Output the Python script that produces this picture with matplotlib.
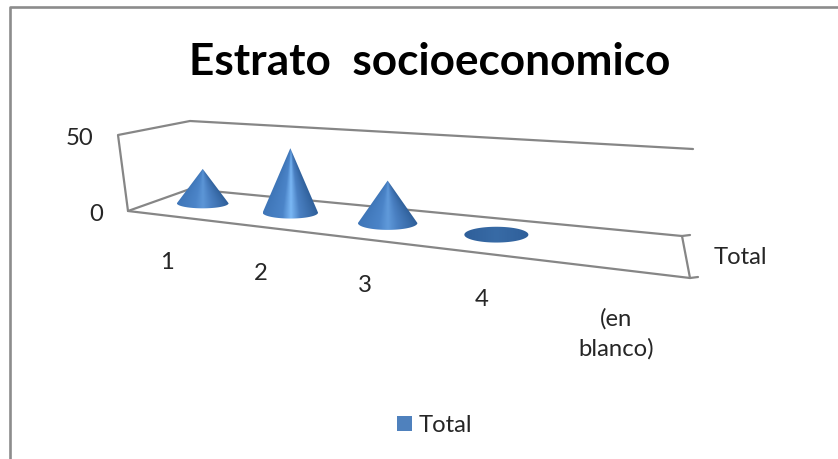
"""Draw the socioeconomic stratum chart as a 3D-looking cone chart."""

from __future__ import annotations

import matplotlib

matplotlib.use("Agg")

import matplotlib.pyplot as plt
import numpy as np
from matplotlib.colors import LinearSegmentedColormap
from matplotlib.patches import PathPatch, Rectangle
from matplotlib.path import Path

CATEGORIES = ["1", "2", "3", "4", "(en\nblanco)"]
VALUES = [24, 43, 27, 1, 0]
VALUE_TICKS = [0, 50]
SERIES_NAME = "Total"
TITLE = "Estrato  socioeconomico"

FONT = "Lato"
LABEL_SIZE = 17.2
TEXT_COLOR = "#262626"
FRAME_COLOR = "#868686"
LEGEND_COLOR = "#4f81bd"

# floor corners in figure pixels
FRONT_LEFT = np.array([128.0, 212.0])
FRONT_RIGHT = np.array([690.0, 279.0])
BACK_LEFT = np.array([190.0, 190.0])
BACK_RIGHT = np.array([682.0, 237.0])
PERSPECTIVE = 0.757
BASE_DEPTH = 0.55


def warp(position: float) -> float:
    return PERSPECTIVE * position / (1 + (PERSPECTIVE - 1) * position)


def floor_point(position: float, depth: float) -> np.ndarray:
    share = warp(position)
    front = FRONT_LEFT + share * (FRONT_RIGHT - FRONT_LEFT)
    back = BACK_LEFT + share * (BACK_RIGHT - BACK_LEFT)
    return front + depth * (back - front)


def value_height(position: float, value: float) -> float:
    return value * (70 + 20 * warp(position)) / 50


def draw_cone(ax: plt.Axes, position: float, value: float) -> None:
    if value <= 0:
        return
    share = warp(position)
    cx, cy = floor_point(position, BASE_DEPTH)
    half_w = 25 + 11 * share
    half_h = 4.7 + 5 * share
    height = value_height(position, value)
    flat = height <= half_h

    if flat:
        # nearly flat cone: only the base ellipse shows
        angles = np.linspace(0, 2 * np.pi, 120)
        xs = cx + half_w * np.cos(angles)
        ys = cy + half_h * np.sin(angles)
    else:
        angles = np.linspace(np.pi, 0, 60)
        xs = np.r_[cx, cx + half_w * np.cos(angles)]
        ys = np.r_[cy - height, cy + half_h * np.sin(angles)]
    outline = Path(np.column_stack([xs, ys]))

    # shading fans out from the tip, brighter the taller the cone is
    glow = min(value / max(VALUES), 1.0) ** 2
    peak = np.array([0.31, 0.53, 0.79]) + glow * np.array([0.17, 0.19, 0.17])
    if flat:
        stops = [(0, "#2f5f9a"), (0.5, "#386ba6"), (1, "#2f5f9a")]
    else:
        stops = [
            (0, "#3f76b8"),
            (0.35, "#4b84c8"),
            (0.5, tuple(peak)),
            (0.66, "#4a80c2"),
            (1, "#2e5e98"),
        ]
    cmap = LinearSegmentedColormap.from_list("cone", stops)

    top = cy - max(height, half_h) - 1
    bottom = cy + half_h + 1
    grid_x, grid_y = np.meshgrid(
        np.linspace(cx - half_w, cx + half_w, 160),
        np.linspace(top, bottom, 160),
    )
    if flat:
        across = 0.5 + (grid_x - cx) / (2 * half_w)
    else:
        spread = np.clip((grid_y - (cy - height)) / height, 0.02, 1) * half_w
        across = np.clip(0.5 + (grid_x - cx) / (2 * spread), 0, 1)

    image = ax.imshow(
        across,
        cmap=cmap,
        vmin=0,
        vmax=1,
        extent=(cx - half_w, cx + half_w, bottom, top),
        aspect="auto",
        zorder=3,
        interpolation="bilinear",
    )
    patch = PathPatch(outline, facecolor="none", edgecolor="none", transform=ax.transData)
    ax.add_patch(patch)
    image.set_clip_path(patch)


def draw_frame(ax: plt.Axes) -> None:
    lines = [
        [(693, 150), (190, 122), (118, 136), (128, 212), tuple(BACK_LEFT)],
        [tuple(FRONT_LEFT), tuple(FRONT_RIGHT), (698, 278)],
        [tuple(BACK_LEFT), tuple(BACK_RIGHT), (690, 236)],
        [tuple(BACK_RIGHT), tuple(FRONT_RIGHT)],
    ]
    for line in lines:
        xs, ys = zip(*line)
        ax.plot(xs, ys, color=FRAME_COLOR, lw=1.6, solid_capstyle="round", zorder=2)


def main() -> None:
    fig = plt.figure(figsize=(8.38, 4.6), dpi=100)
    ax = fig.add_axes([0, 0, 1, 1])
    ax.set_xlim(0, 838)
    ax.set_ylim(460, 0)
    ax.axis("off")

    # outer chart border
    ax.plot([838, 10, 10], [8, 8, 460], color="#8c8c8c", lw=1.9, zorder=1)

    ax.text(430, 62, TITLE, family=FONT, fontsize=31.8, fontweight="bold",
            color="black", ha="center", va="center")

    draw_frame(ax)

    for i, value in enumerate(VALUES):
        position = (i + 0.5) / len(CATEGORIES)
        draw_cone(ax, position, value)
        x, y = floor_point(position, 0)
        if "\n" in CATEGORIES[i]:
            ax.text(x - 2, y + 38, CATEGORIES[i], family=FONT, fontsize=LABEL_SIZE,
                    color=TEXT_COLOR, ha="center", va="top", linespacing=1.45)
        else:
            ax.text(x - 5, y + 45, CATEGORIES[i], family=FONT, fontsize=LABEL_SIZE,
                    color=TEXT_COLOR, ha="center", va="center")

    for value, x, y in zip(VALUE_TICKS, (103, 93), (215, 139)):
        ax.text(x, y, str(value), family=FONT, fontsize=LABEL_SIZE, color=TEXT_COLOR,
                ha="right", va="center")

    ax.text(714, 258, SERIES_NAME, family=FONT, fontsize=LABEL_SIZE, color=TEXT_COLOR,
            ha="left", va="center")

    # legend
    ax.add_patch(Rectangle((397, 417), 15, 15, facecolor=LEGEND_COLOR, edgecolor="none"))
    ax.text(419, 426, SERIES_NAME, family=FONT, fontsize=LABEL_SIZE, color=TEXT_COLOR,
            ha="left", va="center")

    ax.set_xlim(0, 838)
    ax.set_ylim(460, 0)
    fig.savefig("out.png", dpi=100, facecolor="white")
    plt.close(fig)


if __name__ == "__main__":
    main()
